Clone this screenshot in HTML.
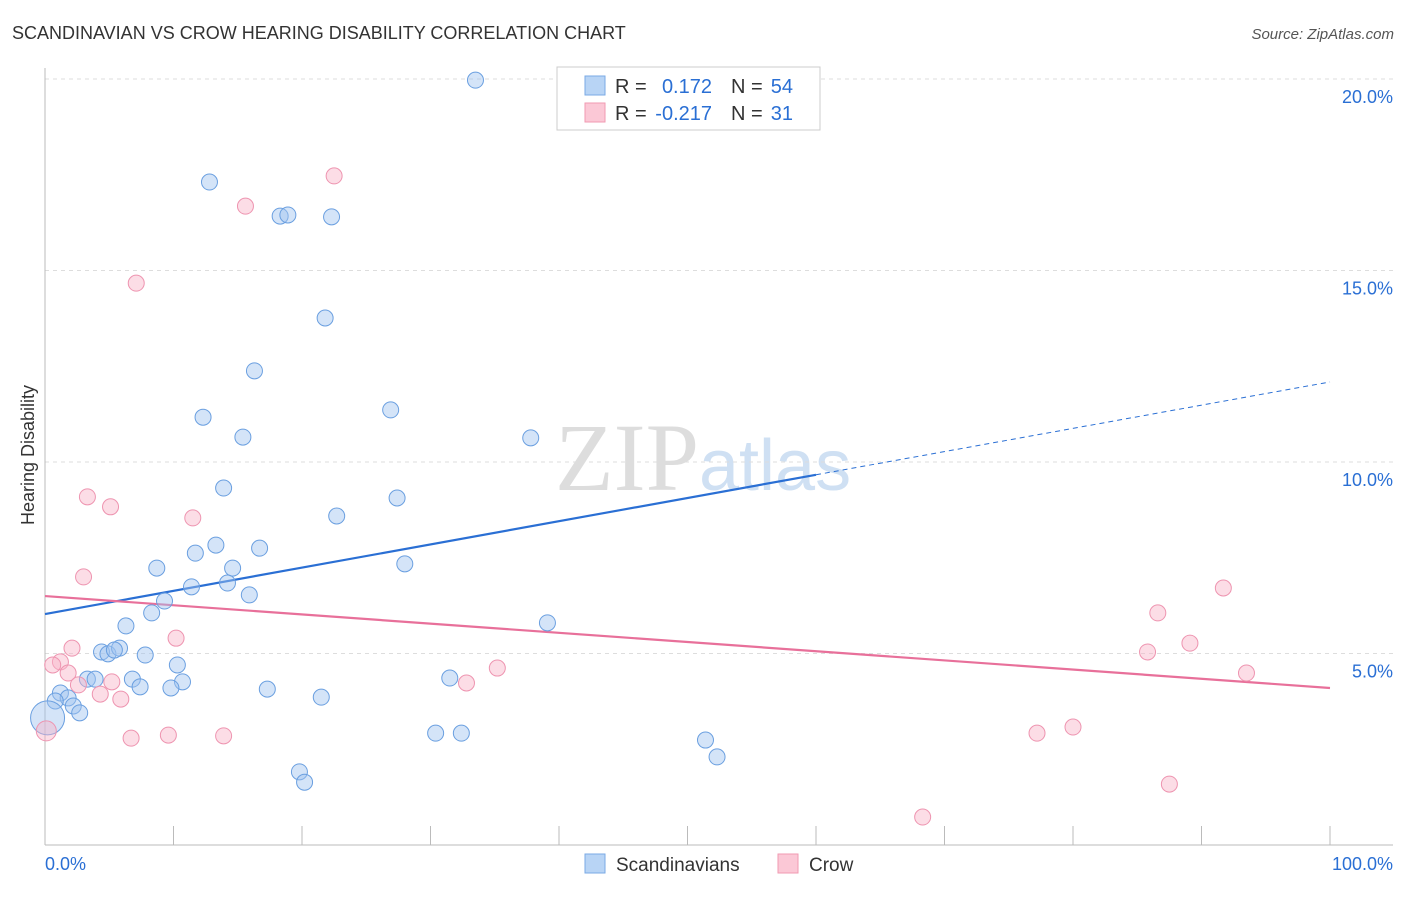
<!DOCTYPE html>
<html><head><meta charset="utf-8"><style>
body{margin:0;background:#fff;font-family:"Liberation Sans",sans-serif}
</style></head><body>
<svg id="chart" width="1406" height="892" xmlns="http://www.w3.org/2000/svg" font-family="Liberation Sans, sans-serif">
<text x="12" y="39" font-size="18" fill="#333">SCANDINAVIAN VS CROW HEARING DISABILITY CORRELATION CHART</text>
<text x="1394" y="39" font-size="15" fill="#555" text-anchor="end" font-style="italic">Source: ZipAtlas.com</text>
<text x="555" y="490" font-size="96" fill="#ddd" font-family="Liberation Serif, serif">ZIP<tspan fill="#cfe0f3" font-family="Liberation Sans, sans-serif" font-size="72">atlas</tspan></text>
<text transform="translate(34,455) rotate(-90)" font-size="18" fill="#333" text-anchor="middle">Hearing Disability</text>
<g id="grid"></g><g id="axes"></g><g id="trends"></g><g id="pts"></g>
<g font-size="20">
<rect x="557" y="67" width="263" height="63" fill="#fff" stroke="#ccc"/>
<rect x="585" y="76" width="20" height="19" fill="#b8d4f5" stroke="#7aaae5"/>
<rect x="585" y="103" width="20" height="19" fill="#fbc8d6" stroke="#f09ab2"/>
<text x="615" y="93" fill="#333">R =</text>
<text x="712" y="93" fill="#2a6fd4" text-anchor="end">0.172</text>
<text x="731" y="93" fill="#333">N =</text>
<text x="793" y="93" fill="#2a6fd4" text-anchor="end">54</text>
<text x="615" y="120" fill="#333">R =</text>
<text x="712" y="120" fill="#2a6fd4" text-anchor="end">-0.217</text>
<text x="731" y="120" fill="#333">N =</text>
<text x="793" y="120" fill="#2a6fd4" text-anchor="end">31</text>
</g>
<g>
<rect x="585" y="854" width="20" height="19" fill="#b8d4f5" stroke="#7aaae5"/>
<text x="616" y="871" font-size="19" fill="#333">Scandinavians</text>
<rect x="778" y="854" width="20" height="19" fill="#fbc8d6" stroke="#f09ab2"/>
<text x="809" y="871" font-size="19" fill="#333">Crow</text>
</g>
</svg>
<script>
const yTicks=[5,10,15,20];
const yTickLabels=["5.0%","10.0%","15.0%","20.0%"];
const blueX=[33.5,12.8,18.3,18.9,22.3,21.8,16.3,12.3,26.9,15.4,37.8,13.9,27.4,22.7,13.3,11.7,16.7,8.7,14.6,28.0,11.4,14.2,15.9,9.3,8.3,39.1,6.3,4.4,4.9,5.8,5.4,7.8,10.3,3.3,3.9,6.8,7.4,10.7,9.8,31.5,17.3,21.5,1.2,1.8,0.8,2.2,2.7,0.2,30.4,32.4,51.4,52.3,19.8,20.2];
const blueY=[19.97,17.31,16.42,16.45,16.40,13.76,12.38,11.17,11.36,10.65,10.63,9.32,9.06,8.59,7.83,7.62,7.75,7.23,7.23,7.34,6.74,6.84,6.53,6.37,6.06,5.80,5.72,5.04,4.99,5.14,5.09,4.96,4.70,4.33,4.33,4.33,4.13,4.26,4.10,4.36,4.07,3.86,3.97,3.84,3.76,3.63,3.45,3.32,2.92,2.92,2.74,2.30,1.91,1.64];
const pinkX=[22.5,15.6,7.1,3.3,5.1,11.5,3.0,10.2,2.1,1.2,0.6,1.8,2.6,5.2,4.3,5.9,6.7,9.6,13.9,35.2,32.8,91.7,86.6,89.1,85.8,93.5,80.0,77.2,87.5,68.3,0.1];
const pinkY=[17.47,16.68,14.67,9.09,8.83,8.54,7.00,5.40,5.14,4.78,4.70,4.49,4.18,4.26,3.94,3.81,2.79,2.87,2.85,4.62,4.23,6.71,6.06,5.27,5.04,4.49,3.08,2.92,1.59,0.73,2.98];
const blueTrend=[6.03,12.09];
const pinkTrend=[6.50,4.10];
const NS="http://www.w3.org/2000/svg";
const X=v=>45+v*12.85, Y=v=>845-v*38.3;
function mk(tag,attrs,parent){const e=document.createElementNS(NS,tag);for(const k in attrs)e.setAttribute(k,attrs[k]);document.getElementById(parent).appendChild(e);return e;}
yTicks.forEach((t,i)=>{
 const l=mk('line',{x1:45,x2:1393,y1:Y(t),y2:Y(t),stroke:'#ddd','stroke-dasharray':'4,4'},'grid');
 
 
 const tx=mk('text',{x:1393,y:Y(t)+24,'font-size':18,fill:'#2a6fd4','text-anchor':'end'},'grid');tx.textContent=yTickLabels[i];
 
 
});
mk('line',{x1:45,x2:45,y1:68,y2:845,stroke:'#bbb'},'axes');
mk('line',{x1:45,x2:1393,y1:845,y2:845,stroke:'#bbb'},'axes');
for(let i=0;i<=10;i++){const t=mk('line',{x1:X(i*10),x2:X(i*10),y1:826,y2:845,stroke:'#bbb'},'axes');
 
 }
const x0=mk('text',{x:45,y:870,'font-size':18,fill:'#2a6fd4'},'axes');x0.textContent='0.0%';


const x1=mk('text',{x:1393,y:870,'font-size':18,fill:'#2a6fd4','text-anchor':'end'},'axes');x1.textContent='100.0%';


const bm=blueTrend[0]+(blueTrend[1]-blueTrend[0])*0.6;
const bl=mk('line',{x1:X(0),y1:Y(blueTrend[0]),x2:X(60),y2:Y(bm),stroke:'#2a6fd4','stroke-width':2.2},'trends');


const bd=mk('line',{x1:X(60),y1:Y(bm),x2:X(100),y2:Y(blueTrend[1]),stroke:'#2a6fd4','stroke-width':1,'stroke-dasharray':'5,4'},'trends');


const pl=mk('line',{x1:X(0),y1:Y(pinkTrend[0]),x2:X(100),y2:Y(pinkTrend[1]),stroke:'#e8709a','stroke-width':2.2},'trends');


blueX.forEach((v,i)=>{const c=mk('circle',{cx:X(v),cy:Y(blueY[i]),r:i==47?17:8,fill:'rgba(160,196,240,0.45)',stroke:'#6a9fe0','stroke-width':1},'pts');
 
 });
pinkX.forEach((v,i)=>{const c=mk('circle',{cx:X(v),cy:Y(pinkY[i]),r:i==30?10:8,fill:'rgba(248,180,200,0.45)',stroke:'#ee94b0','stroke-width':1},'pts');
 
 });
</script>
</body></html>
